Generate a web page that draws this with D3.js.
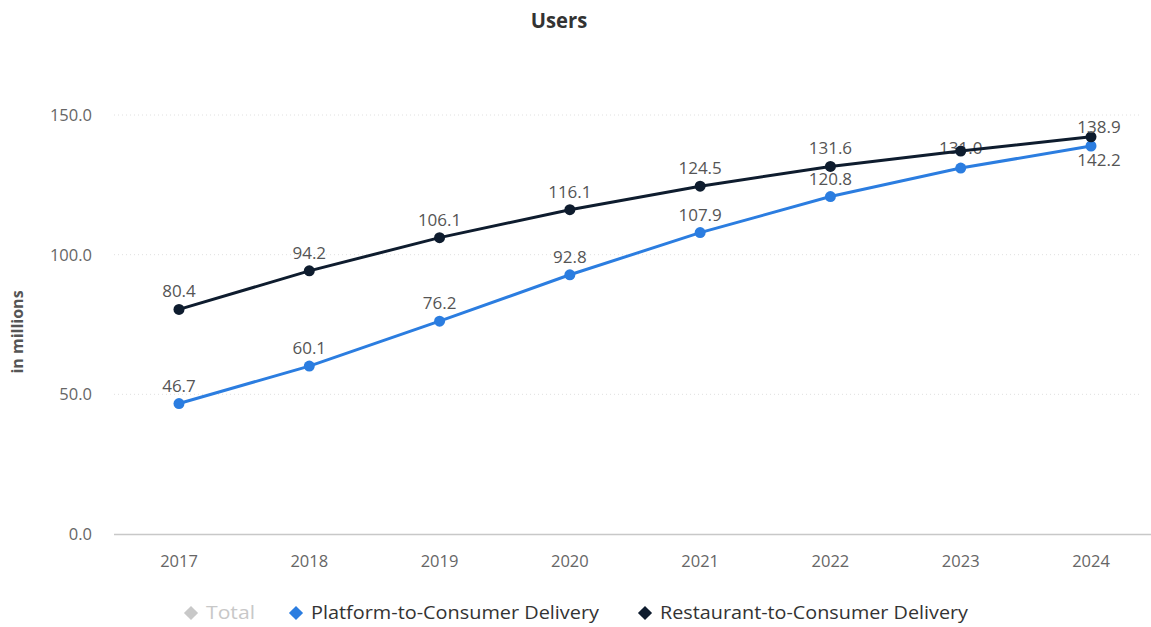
<!DOCTYPE html>
<html><head><meta charset="utf-8">
<script src="https://cdn.jsdelivr.net/npm/d3@7"></script>
<style>body{margin:0;background:#fff;}svg{display:block;font-family:"Open Sans",sans-serif;}</style>
</head><body>
<svg id="c" width="1151" height="627"></svg>
<script>
const years = ["2017","2018","2019","2020","2021","2022","2023","2024"];
const platform = [46.7, 60.1, 76.2, 92.8, 107.9, 120.8, 131.0, 138.9];
const restaurant = [80.4, 94.2, 106.1, 116.1, 124.5, 131.6, 137.1, 142.2];
const yTicks = [0, 50, 100, 150];
const seriesNames = ["Total", "Platform-to-Consumer Delivery", "Restaurant-to-Consumer Delivery"];
const seriesColors = ["#c8c8c8", "#2b7de0", "#0e1c2e"];

const svg = d3.select("#c");
const x = d3.scalePoint().domain(years).range([179, 1091]);
const y = d3.scaleLinear().domain([0, 150]).range([534, 115]);

svg.append("text").attr("x", 559).attr("y", 28).attr("text-anchor", "middle")
  .attr("font-size", 22).attr("font-weight", "bold").attr("fill", "#333")
  .attr("transform", "translate(559,0) scale(0.92,1) translate(-559,0)").text("Users");

// grid
svg.append("g").selectAll("line").data(yTicks.filter(d => d > 0)).join("line")
  .attr("x1", 114).attr("x2", 1140).attr("y1", d => y(d)).attr("y2", d => y(d))
  .attr("stroke", "#e0e0e0").attr("stroke-width", 1).attr("stroke-dasharray", "1,3");
// x axis line
svg.append("line").attr("x1", 114).attr("x2", 1151).attr("y1", 534.5).attr("y2", 534.5)
  .attr("stroke", "#c8c8c8").attr("stroke-width", 1.5);

svg.append("g").selectAll("text").data(yTicks).join("text")
  .attr("x", 92).attr("y", d => y(d) + 6).attr("text-anchor", "end")
  .attr("font-size", 16.5).attr("fill", "#666").text(d => d.toFixed(1));

svg.append("g").selectAll("text").data(years).join("text")
  .attr("x", d => x(d)).attr("y", 567).attr("text-anchor", "middle")
  .attr("font-size", 16.5).attr("fill", "#666").text(d => d);

svg.append("text").attr("transform", "translate(23,332) rotate(-90)").attr("text-anchor", "middle")
  .attr("font-size", 16).attr("font-weight", "bold").attr("fill", "#555").text("in millions");

const line = d3.line().x((d, i) => x(years[i])).y(d => y(d));
function drawSeries(vals, color) {
  const g = svg.append("g");
  g.append("path").datum(vals).attr("d", line).attr("fill", "none")
    .attr("stroke", color).attr("stroke-width", 3);
  g.selectAll("circle").data(vals).join("circle")
    .attr("cx", (d, i) => x(years[i])).attr("cy", d => y(d)).attr("r", 5.5).attr("fill", color);
}
function label(g, xv, yv, txt) {
  g.append("text").attr("x", xv).attr("y", yv).attr("text-anchor", "middle")
    .attr("font-size", 17).attr("fill", "#555").text(txt);
}

drawSeries(platform, seriesColors[1]);
// 2023 platform label sits beneath the dark line (restaurant 2023 label is hidden)
const under = svg.append("g");
label(under, x("2023"), y(platform[6]) - 14, platform[6].toFixed(1));
drawSeries(restaurant, seriesColors[2]);

const over = svg.append("g");
years.forEach((yr, i) => {
  if (i < 6) {
    label(over, x(yr), y(platform[i]) - 12, platform[i].toFixed(1));
    label(over, x(yr), y(restaurant[i]) - 12, restaurant[i].toFixed(1));
  }
});
// 2024: labels placed around the overlapping points as in the original
label(over, x("2024") + 8, y(restaurant[7]) - 4, platform[7].toFixed(1));
label(over, x("2024") + 8, y(platform[7]) + 20, restaurant[7].toFixed(1));

// legend
const legX = [191, 296, 645];
const lg = svg.append("g");
seriesNames.forEach((n, i) => {
  lg.append("rect").attr("x", -5).attr("y", -5).attr("width", 10).attr("height", 10)
    .attr("transform", `translate(${legX[i]},613) rotate(45)`).attr("fill", seriesColors[i]);
  lg.append("text").attr("x", legX[i] + 15).attr("y", 619).attr("font-size", 19)
    .attr("textLength", [49, 288, 308][i]).attr("lengthAdjust", "spacingAndGlyphs")
    .attr("fill", i === 0 ? "#c8c8c8" : "#333").text(n);
});
</script>
</body></html>
